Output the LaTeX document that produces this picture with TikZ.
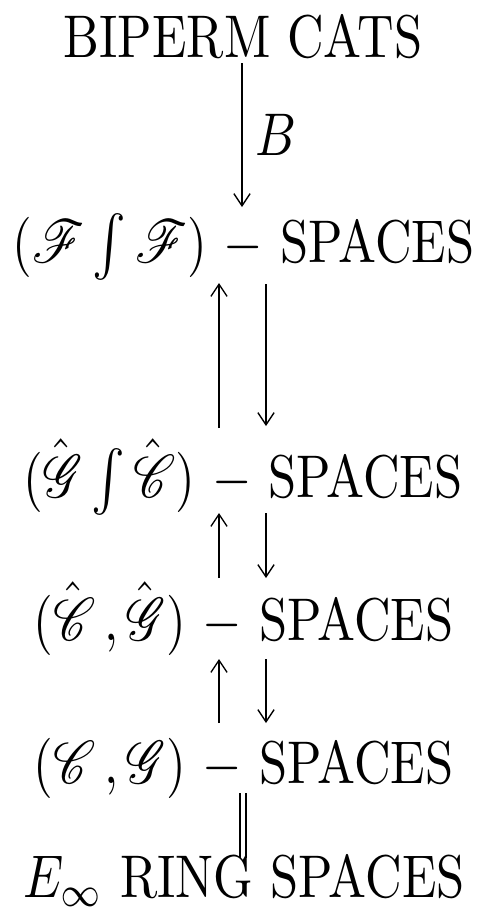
\documentclass[tikz,border=0pt]{standalone}
\usepackage{graphicx}
\usepackage{amsmath}
\usepackage{mathrsfs}
\usetikzlibrary{arrows.meta}
\newcommand{\vstr}[1]{\scalebox{1}[1.19]{#1}}
\newcommand{\hsc}[1]{\skew{-1}{\hat}{\mathscr{#1}}}
\begin{document}
\begin{tikzpicture}[x=0.1975pt,y=-0.1975pt,
  lbl/.style={anchor=base,inner sep=0pt,font=\fontsize{10}{12}\selectfont},
  tip/.style={-{Straight Barb[length=2.4pt,width=3.2pt,line width=0.27pt]}},
  thinarr/.style={tip,line width=0.27pt},
  thickarr/.style={tip,line width=0.45pt},
  eqline/.style={line width=0.27pt}]
\useasboundingbox (0,0) rectangle (482,913);
\node[lbl] (n1) at (243,57) {\vstr{BIPERM CATS}};
\node[lbl] (n2) at (243.5,262) {\vstr{$(\mathscr{F} \int \mathscr{F})$ $-$ SPACES}};
\node[lbl] (n3) at (243,497) {\vstr{$(\hsc{G} \int \hsc{C})$ $-$ SPACES}};
\node[lbl] (n4) at (243.5,640) {\vstr{$(\hsc{C}\,, \hsc{G})$ $-$ SPACES}};
\node[lbl] (n5) at (243.5,783) {\vstr{$(\mathscr{C}\,, \mathscr{G})$ $-$ SPACES}};
\node[lbl] (n6) at (244,897) {\vstr{$E_\infty$ RING SPACES}};
% arrow endpoints
\coordinate (b1) at (242,63);  \coordinate (b2) at (242,207);
\coordinate (u1s) at (219,428); \coordinate (u1e) at (219,283);
\coordinate (d1s) at (266,284); \coordinate (d1e) at (266,426);
\coordinate (u2s) at (219,578); \coordinate (u2e) at (219,513);
\coordinate (d2s) at (266,513); \coordinate (d2e) at (266,578);
\coordinate (u3s) at (219,723); \coordinate (u3e) at (219,659);
\coordinate (d3s) at (266,659); \coordinate (d3e) at (266,723);
\coordinate (e1) at (240,793); \coordinate (e2) at (240,858);
\coordinate (f1) at (246,793); \coordinate (f2) at (246,858);
\draw[thinarr] (b1) -- node[right=1.5pt,inner sep=1pt,font=\fontsize{10}{12}\selectfont] (lb) {\vstr{$B$}} (b2);
\draw[thickarr] (u1s) -- (u1e);
\draw[thinarr] (d1s) -- (d1e);
\draw[thickarr] (u2s) -- (u2e);
\draw[thinarr] (d2s) -- (d2e);
\draw[thickarr] (u3s) -- (u3e);
\draw[thinarr] (d3s) -- (d3e);
\draw[eqline] (e1) -- (e2);
\draw[eqline] (f1) -- (f2);
\end{tikzpicture}
\end{document}
